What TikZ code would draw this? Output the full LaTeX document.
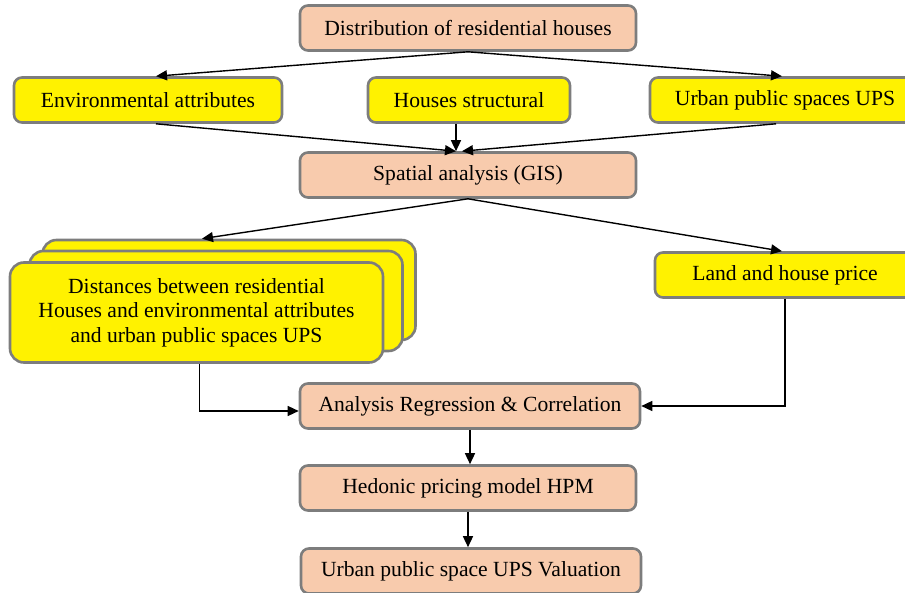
\documentclass[tikz,border=0pt]{standalone}
\usepackage{fontspec}
\setmainfont{Liberation Serif}
\usepackage{tikz}
\usetikzlibrary{positioning, arrows.meta, calc}

\definecolor{peach}{RGB}{248,203,173}
\definecolor{boxgray}{RGB}{125,125,125}

\tikzset{
    base/.style={draw=boxgray, line width=1.3pt, rounded corners=4pt, inner sep=2pt,
        font=\fontsize{10.8}{12.3}\selectfont, align=center},
    peachbox/.style={base, fill=peach, minimum width=168pt, minimum height=22.5pt},
    yellowbox/.style={base, fill=yellow, minimum height=22.5pt},
    stackbox/.style={base, fill=yellow, rounded corners=7pt, minimum width=186.5pt, minimum height=50pt},
    arr/.style={-{Triangle[length=5.5pt, width=5pt]}, line width=0.7pt}
}

\begin{document}
\begin{tikzpicture}[x=0.5pt, y=-0.5pt]
            \useasboundingbox (0,0) rectangle (905,593);

            % Top row
            \node[peachbox] (dist) at (468,28) {Distribution of residential houses};
            \node[yellowbox, minimum width=134pt] (env) at (148,100) {Environmental attributes};
            \node[yellowbox, minimum width=101pt] (houses) at (469,100) {Houses structural};
            \node[yellowbox, minimum width=135pt] (ups) at (785,100) {Urban public spaces UPS};
            \node[peachbox] (spatial) at (468,175) {Spatial analysis (GIS)};

            % Stacked distances box
            \node[stackbox] (back) at (229,290) {};
            \node[stackbox] (middle) at (216,301) {};
            \node[stackbox] (front) at (196.5,312.5) {Distances between residential\\Houses and environmental attributes\\and urban public spaces UPS};
            \node[yellowbox, minimum width=130pt] (land) at (785,275) {Land and house price};

            % Bottom column
            \node[peachbox, minimum width=170pt] (analysis) at (470,406) {Analysis Regression \& Correlation};
            \node[peachbox] (hedonic) at (468,488) {Hedonic pricing model HPM};
            \node[peachbox, minimum width=170pt] (valuation) at (471,571) {Urban public space UPS Valuation};

            % Connectors
            \draw[arr] (dist.south) -- ($(env.north)+(8,0)$);
            \draw[arr] (dist.south) -- ($(ups.north)+(-3,0)$);
            \draw[arr] ($(env.south)+(8,0)$) -- ($(spatial.north)+(-12,0)$);
            \draw[arr] ($(houses.south)+(-13,0)$) -- ($(spatial.north)+(-12,0)$);
            \draw[arr] ($(ups.south)+(-9,0)$) -- ($(spatial.north)+(-6,0)$);
            \draw[arr] (spatial.south) -- ($(back.north)+(-27,0)$);
            \draw[arr] (spatial.south) -- ($(land.north)+(-3,0)$);
            \draw[arr] ($(front.south)+(3,0)$) |- ($(analysis.west)+(0,5)$);
            \draw[arr] (land.south) |- (analysis.east);
            \draw[arr] (analysis.south) -- (analysis.south |- hedonic.north);
            \draw[arr] (hedonic.south) -- (hedonic.south |- valuation.north);
\end{tikzpicture}
\end{document}
